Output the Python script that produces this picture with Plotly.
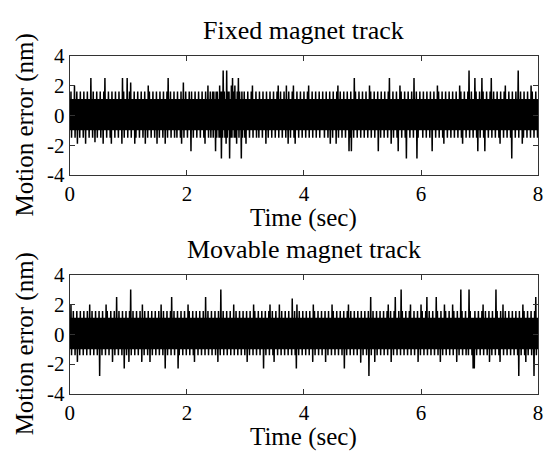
import numpy as np
import plotly.graph_objects as go

titles = ["Fixed magnet track", "Movable magnet track"]
x_ticks = [0, 2, 4, 6, 8]
y_ticks = [-4, -2, 0, 2, 4]
t_end = 8.0

# motion error (nm), sampled uniformly over 0..8 s
fixed_err = [
    1.1,-1.0,1.6,-1.5,1.1,-1.0,1.1,-1.0,2.0,-1.5,1.1,-1.0,1.6,-1.9,1.1,-1.0,1.1,-1.5,1.6,-1.0,
    1.1,-1.0,1.1,-1.5,1.6,-1.0,1.1,-1.9,1.1,-1.0,1.6,-1.0,1.1,-1.5,1.1,-1.0,2.5,-1.0,1.1,-1.5,
    1.6,-1.0,1.1,-1.8,1.1,-1.0,1.6,-1.5,1.1,-1.0,1.1,-1.0,1.6,-1.5,1.1,-1.0,1.1,-1.9,1.6,-1.0,
    2.5,-1.0,1.1,-1.5,1.1,-1.0,1.6,-1.0,1.1,-1.5,1.1,-1.9,1.6,-1.0,1.1,-1.0,1.1,-1.5,1.6,-1.0,
    1.1,-1.0,1.1,-1.5,1.6,-1.0,1.1,-1.0,1.1,-1.9,2.5,-1.0,1.6,-1.5,1.1,-1.0,1.1,-1.0,2.5,-1.5,
    1.1,-1.0,1.6,-1.0,2.2,-1.5,1.1,-1.0,1.1,-1.0,1.6,-1.9,1.1,-1.5,1.1,-1.0,1.6,-1.0,1.1,-1.5,
    1.1,-1.0,1.6,-1.0,1.1,-1.5,1.1,-1.0,1.6,-1.9,1.1,-1.0,1.1,-1.5,2.0,-1.0,1.6,-1.0,1.1,-1.5,
    1.1,-1.0,1.6,-1.0,1.1,-1.5,1.1,-1.0,1.6,-1.9,1.1,-1.0,1.1,-1.5,1.6,-1.0,1.1,-1.0,1.1,-1.5,
    1.6,-1.0,1.1,-1.9,1.1,-1.0,1.6,-1.5,2.5,-1.0,1.1,-1.0,1.6,-1.5,1.1,-1.0,1.1,-1.0,1.6,-1.5,
    1.1,-1.0,1.1,-1.5,1.6,-1.0,1.1,-1.0,1.1,-1.5,1.6,-1.9,1.1,-1.0,2.2,-1.5,1.1,-1.0,1.6,-1.0,
    1.1,-1.5,1.1,-1.0,1.6,-1.0,1.1,-2.4,1.6,-1.0,1.1,-1.5,1.1,-1.0,1.6,-1.0,1.1,-1.5,1.1,-1.0,
    1.6,-1.0,1.1,-1.5,1.1,-1.0,1.6,-1.0,1.1,-1.5,1.1,-1.9,1.6,-1.0,1.1,-1.0,2.0,-1.5,1.1,-1.0,
    1.6,-1.5,1.1,-1.0,1.6,-1.5,1.6,-1.0,1.1,-2.4,1.6,-1.5,1.6,-1.0,1.1,-1.5,2.0,-1.5,1.6,-2.9,
    1.6,-1.5,3.0,-1.0,1.6,-1.5,1.1,-1.9,3.0,-1.5,1.6,-1.0,1.6,-2.9,1.1,-1.5,2.0,-1.5,2.5,-1.0,
    1.6,-1.5,2.0,-1.5,1.1,-1.9,1.6,-1.0,2.5,-1.5,1.6,-1.0,1.1,-2.9,1.6,-1.5,1.1,-1.0,1.6,-1.5,
    1.1,-1.9,1.1,-1.0,1.6,-1.0,1.1,-1.5,1.1,-1.0,1.6,-1.0,2.0,-1.5,1.1,-1.0,1.1,-1.0,1.6,-1.5,
    1.1,-1.0,1.1,-1.5,1.6,-1.0,1.1,-1.0,1.1,-1.5,1.6,-1.0,1.1,-1.0,1.1,-1.9,1.6,-1.0,1.1,-1.5,
    1.1,-1.0,1.6,-1.0,1.1,-1.5,1.1,-1.0,1.6,-1.0,1.1,-1.5,1.1,-1.0,1.6,-1.0,2.0,-1.5,1.1,-1.0,
    1.6,-1.0,1.1,-1.5,1.1,-1.0,1.6,-1.0,1.1,-1.5,2.0,-1.0,1.1,-1.9,1.6,-1.0,1.1,-1.5,1.1,-1.0,
    1.6,-1.0,2.0,-1.5,1.1,-1.9,1.1,-1.0,1.6,-1.0,1.1,-1.5,1.1,-1.0,1.6,-1.0,1.1,-1.5,1.1,-1.0,
    1.6,-1.0,1.1,-1.5,1.1,-1.0,1.6,-1.0,2.0,-1.5,1.1,-1.0,1.1,-1.0,1.6,-1.5,1.1,-1.0,1.1,-1.0,
    1.6,-1.5,1.1,-1.0,1.1,-1.0,1.6,-1.5,1.1,-1.0,1.1,-1.0,1.6,-1.0,1.1,-1.5,1.1,-1.0,1.6,-1.0,
    1.1,-1.5,1.1,-1.0,1.6,-1.9,1.1,-1.0,1.1,-1.5,1.6,-1.0,1.1,-1.0,1.1,-1.9,1.6,-1.0,2.0,-1.5,
    1.1,-1.0,1.6,-1.0,1.1,-1.5,1.1,-1.0,1.6,-1.0,1.1,-1.5,1.1,-1.0,1.6,-1.0,1.1,-2.4,1.1,-1.5,
    1.6,-2.4,1.1,-1.0,1.1,-1.5,2.5,-1.0,1.6,-1.0,1.1,-1.5,1.1,-1.0,1.6,-1.0,1.1,-1.5,1.1,-1.0,
    1.6,-1.0,1.1,-1.5,1.1,-1.0,1.6,-1.0,1.1,-1.5,1.1,-1.0,2.0,-1.0,1.6,-1.5,1.1,-1.0,1.1,-1.0,
    1.6,-1.5,1.1,-1.0,1.1,-1.0,1.6,-2.4,1.1,-1.0,1.1,-1.5,1.6,-1.0,1.1,-1.0,1.1,-1.5,1.6,-1.0,
    1.1,-1.0,1.1,-1.5,1.6,-1.0,2.5,-1.0,1.1,-1.9,1.1,-1.0,1.6,-1.5,1.1,-1.0,1.1,-1.0,1.6,-1.5,
    1.1,-2.4,1.1,-1.0,2.0,-1.0,1.6,-1.5,1.1,-1.0,1.1,-1.0,1.6,-1.5,1.1,-2.9,1.1,-1.0,1.6,-1.0,
    1.1,-1.5,1.1,-1.0,1.6,-1.0,1.1,-1.5,2.5,-1.0,1.1,-1.0,1.6,-2.9,1.1,-1.5,1.1,-1.0,1.6,-1.0,
    1.1,-1.0,1.1,-1.5,1.6,-1.0,1.1,-1.0,1.1,-1.5,1.6,-1.0,1.1,-1.0,1.1,-1.5,1.6,-1.0,1.1,-2.4,
    1.1,-1.0,1.6,-1.0,1.1,-1.5,1.1,-1.0,2.0,-1.0,1.6,-1.5,1.1,-1.0,1.1,-1.0,1.6,-1.5,1.1,-1.9,
    1.1,-1.0,1.6,-1.0,1.1,-1.5,1.1,-1.0,1.6,-1.0,1.1,-1.5,1.1,-1.0,1.6,-1.0,1.1,-1.5,1.1,-1.0,
    1.6,-1.0,1.1,-1.5,1.1,-1.0,2.0,-1.0,1.6,-1.5,1.1,-1.9,1.1,-1.0,1.6,-1.0,1.1,-1.5,1.1,-1.0,
    1.6,-1.0,3.0,-1.5,1.1,-1.0,1.6,-1.0,1.1,-1.5,1.1,-1.0,2.5,-1.0,1.6,-1.5,1.1,-2.4,1.1,-1.0,
    1.6,-1.5,1.1,-1.0,2.5,-1.0,1.6,-1.5,1.1,-2.4,1.1,-1.0,1.6,-1.0,1.1,-1.5,1.1,-1.0,1.6,-1.0,
    2.5,-1.5,1.1,-1.0,1.6,-1.0,1.1,-1.5,1.1,-1.0,1.6,-1.0,1.1,-1.5,1.1,-1.9,1.6,-1.0,1.1,-1.0,
    1.1,-1.5,1.6,-1.0,2.0,-1.0,1.1,-1.5,1.1,-1.0,1.6,-1.0,1.1,-1.5,1.1,-2.9,1.6,-1.0,1.1,-1.0,
    1.1,-1.5,1.6,-1.0,1.1,-1.0,3.0,-1.5,1.1,-1.0,1.6,-1.0,1.1,-1.9,1.1,-1.5,1.6,-1.0,1.1,-1.0,
    1.1,-1.5,1.6,-1.0,1.1,-1.0,1.1,-1.5,2.0,-1.0,1.6,-1.0,1.1,-1.5,1.1,-1.0,1.6,-1.0,1.1,-1.5,
    1.1,
]

movable_err = [
    1.1,-1.0,2.0,-1.4,1.1,-1.0,1.55,-1.0,1.1,-1.4,1.1,-1.0,1.55,-1.85,1.1,-1.0,1.1,-1.4,1.55,-1.0,
    1.1,-1.0,1.1,-1.4,1.55,-1.0,1.1,-1.0,1.1,-1.4,1.55,-1.0,1.1,-1.0,2.0,-1.4,1.1,-1.0,1.55,-1.0,
    1.1,-1.4,1.1,-1.0,1.55,-1.0,1.1,-1.4,1.1,-1.0,1.55,-2.8,1.1,-1.0,1.1,-1.4,1.55,-1.0,1.1,-1.0,
    1.1,-1.4,2.0,-1.0,1.55,-1.0,1.1,-1.4,1.1,-1.0,1.55,-1.0,1.1,-1.85,1.1,-1.0,1.55,-1.4,1.1,-1.0,
    2.5,-1.0,1.1,-1.4,1.55,-1.0,1.1,-1.0,1.1,-1.4,1.55,-1.0,1.1,-2.3,1.1,-1.0,1.55,-1.4,1.1,-1.0,
    1.1,-1.85,1.55,-1.0,3.0,-1.4,1.1,-1.0,1.55,-1.0,1.1,-1.4,1.1,-1.0,1.55,-1.0,1.1,-1.4,1.1,-1.0,
    1.55,-1.0,1.1,-1.85,2.0,-1.0,1.1,-1.4,1.55,-1.0,1.1,-1.0,1.1,-1.4,1.55,-1.0,1.1,-1.85,1.1,-1.0,
    1.55,-1.4,1.1,-1.0,1.1,-1.0,1.55,-1.4,1.1,-1.0,1.1,-1.0,1.55,-1.4,1.1,-1.0,2.0,-1.0,1.1,-1.4,
    1.55,-1.0,1.1,-2.3,1.1,-1.0,1.55,-1.4,1.1,-1.0,1.1,-1.0,1.55,-1.4,2.5,-1.0,1.1,-1.0,1.55,-1.4,
    1.1,-1.0,1.1,-1.0,1.55,-2.3,1.1,-1.4,1.1,-1.0,1.55,-1.0,1.1,-1.4,1.1,-1.0,1.55,-1.0,1.1,-1.4,
    1.1,-1.0,2.0,-1.0,1.55,-1.4,1.1,-1.0,1.1,-1.0,1.55,-1.4,1.1,-1.85,1.1,-1.0,1.55,-1.0,1.1,-1.4,
    1.1,-1.0,1.55,-1.0,1.1,-1.4,1.1,-1.0,1.55,-1.0,1.1,-1.4,2.5,-1.0,1.1,-1.0,1.55,-1.4,1.1,-1.0,
    1.1,-1.0,1.55,-1.4,1.1,-1.0,1.1,-1.0,1.55,-1.4,1.1,-1.0,1.1,-1.85,1.55,-1.0,1.1,-1.4,3.0,-1.0,
    1.1,-1.0,1.55,-1.4,1.1,-1.0,1.1,-1.0,1.55,-1.4,1.1,-1.0,1.1,-1.0,1.55,-1.4,1.1,-1.0,1.1,-1.0,
    2.0,-1.4,1.1,-1.0,1.55,-1.0,1.1,-1.4,1.1,-1.0,1.55,-1.0,1.1,-1.4,1.1,-1.0,1.55,-1.0,1.1,-1.4,
    1.1,-1.0,1.55,-1.85,1.1,-1.0,1.1,-1.4,1.55,-1.0,1.1,-1.0,1.1,-1.4,2.0,-1.0,1.55,-1.0,1.1,-1.4,
    1.1,-1.0,1.55,-1.0,1.1,-1.4,1.1,-1.0,1.55,-1.0,1.1,-2.3,1.1,-1.0,1.55,-1.4,1.1,-1.0,1.1,-1.0,
    1.55,-1.4,2.0,-1.0,1.1,-1.0,1.55,-1.4,1.1,-1.85,1.1,-1.0,1.55,-1.0,1.1,-1.4,1.1,-1.0,2.0,-1.0,
    1.1,-1.4,1.55,-1.0,1.1,-1.0,1.1,-1.4,1.55,-1.0,1.1,-1.0,1.1,-1.4,1.55,-1.0,1.1,-1.0,1.1,-1.4,
    2.4,-1.0,1.1,-1.0,1.55,-1.4,1.1,-2.3,2.0,-1.0,1.1,-1.4,1.55,-1.0,1.1,-1.0,1.1,-1.4,1.55,-1.0,
    1.1,-1.0,1.1,-1.4,1.55,-1.0,1.1,-1.0,1.1,-1.4,1.55,-1.0,1.1,-1.0,1.1,-1.85,2.0,-1.0,1.55,-1.4,
    1.1,-1.0,1.1,-1.0,1.55,-1.4,1.1,-1.0,1.1,-1.0,1.55,-1.4,1.1,-1.0,1.1,-1.0,1.55,-1.85,1.1,-1.0,
    1.1,-1.4,1.55,-1.0,1.1,-1.0,1.1,-1.4,2.0,-1.0,1.55,-1.0,1.1,-1.4,1.1,-1.0,1.55,-1.0,1.1,-1.4,
    1.1,-1.0,1.55,-1.0,1.1,-1.4,1.1,-1.0,1.55,-2.3,1.1,-1.0,1.1,-1.4,1.55,-1.0,2.0,-1.0,1.1,-1.4,
    1.55,-1.0,1.1,-1.0,1.1,-1.4,1.55,-1.0,1.1,-1.0,1.1,-1.4,1.55,-1.0,1.1,-1.0,1.1,-1.9,1.55,-1.0,
    1.1,-1.4,1.1,-1.0,1.55,-1.0,1.1,-1.4,1.1,-1.0,1.55,-2.8,1.1,-1.0,2.5,-1.4,1.1,-1.0,1.55,-1.0,
    1.1,-1.85,1.1,-1.0,1.55,-1.4,1.1,-1.0,1.1,-1.0,1.55,-1.4,1.1,-1.0,1.1,-1.0,1.55,-1.4,1.1,-1.0,
    1.1,-1.0,1.55,-1.4,2.0,-1.0,1.1,-1.0,1.55,-1.85,1.1,-1.0,1.1,-1.4,1.55,-1.0,2.5,-1.0,1.1,-1.4,
    1.1,-1.0,1.55,-1.0,1.1,-1.4,3.0,-1.0,1.55,-1.0,1.1,-1.4,1.1,-1.0,1.55,-1.0,1.1,-1.4,1.1,-1.0,
    1.55,-1.0,2.0,-1.4,1.1,-1.0,1.1,-1.0,1.55,-1.4,1.1,-1.0,1.1,-1.0,1.55,-1.85,1.1,-1.0,1.1,-1.4,
    2.0,-1.0,1.55,-1.0,1.1,-1.4,1.1,-1.0,1.55,-1.0,2.5,-1.4,1.1,-1.0,1.55,-1.0,1.1,-1.4,1.1,-1.0,
    1.55,-1.0,1.1,-1.4,1.1,-1.0,2.5,-1.0,1.55,-1.4,1.1,-1.0,1.1,-1.85,1.55,-1.0,1.1,-1.4,1.1,-1.0,
    2.0,-1.0,1.55,-1.4,1.1,-1.0,1.1,-1.0,1.55,-1.4,1.1,-1.0,1.1,-1.0,2.0,-1.4,1.55,-1.0,1.1,-1.0,
    1.1,-1.85,1.55,-1.0,1.1,-1.4,1.1,-1.0,3.0,-1.0,1.55,-1.4,1.1,-1.0,1.1,-1.0,1.55,-1.4,1.1,-1.0,
    1.1,-1.4,3.0,-1.0,1.55,-1.0,1.1,-1.4,1.1,-2.3,1.1,-2.3,1.55,-1.0,1.1,-1.4,1.1,-1.0,1.55,-1.0,
    1.1,-1.4,1.1,-1.0,1.55,-1.0,2.0,-1.4,1.1,-1.0,1.55,-1.0,1.1,-1.4,1.1,-1.0,1.55,-1.85,1.1,-1.0,
    1.1,-1.4,1.55,-1.0,1.1,-1.0,1.1,-1.4,3.0,-1.0,1.55,-1.0,1.1,-1.4,1.1,-1.85,1.55,-1.0,1.1,-1.0,
    2.0,-1.4,1.1,-1.0,1.55,-1.0,1.1,-1.4,1.1,-1.0,1.55,-1.0,1.1,-1.4,1.1,-1.0,1.55,-1.0,1.1,-1.4,
    1.1,-1.0,1.55,-1.0,1.1,-1.4,1.1,-2.8,1.55,-1.0,1.1,-1.4,1.1,-1.0,2.0,-1.0,1.55,-1.4,1.1,-1.85,
    1.1,-1.0,1.55,-1.4,1.1,-1.0,1.1,-1.0,1.55,-1.4,1.1,-1.0,1.1,-2.8,1.55,-1.0,2.5,-1.4,1.1,-1.0,
    1.1,
]

W, H = 549, 460
FONT = "Liberation Serif"

def px_x(p):
    return p / W

def px_y(p):
    return 1 - p / H

ax_left, ax_right = 66, 543
panels = [(46, 172), (277, 403)]

fig = go.Figure()
series = [fixed_err, movable_err]
for k, ys in enumerate(series):
    t = np.linspace(0, t_end, len(ys))
    fig.add_trace(go.Scatter(
        x=t, y=ys, mode="lines",
        line=dict(color="black", width=1.5),
        xaxis="x" if k == 0 else "x2",
        yaxis="y" if k == 0 else "y2",
        showlegend=False, hoverinfo="skip",
    ))

axis_common = dict(
    showgrid=False, zeroline=False, showline=True, linecolor="#333333", linewidth=1,
    mirror="ticks", ticks="inside", ticklen=5, tickcolor="#333333",
    tickfont=dict(family=FONT, size=21, color="black"),
)

layout = dict(
    width=W, height=H, margin=dict(l=0, r=0, t=0, b=0),
    paper_bgcolor="white", plot_bgcolor="white",
    font=dict(family=FONT, color="black"),
    annotations=[],
)
for k, (top, bot) in enumerate(panels):
    sx = "" if k == 0 else "2"
    layout["xaxis" + sx] = dict(
        axis_common, domain=[px_x(ax_left), px_x(ax_right)], range=[0, t_end],
        tickvals=x_ticks, ticktext=[str(v) for v in x_ticks],
        anchor="y" + sx,
    )
    layout["yaxis" + sx] = dict(
        axis_common, domain=[px_y(bot), px_y(top)], range=[-4, 4],
        tickvals=y_ticks, ticktext=[str(v) for v in y_ticks],
        anchor="x" + sx,
    )
    mid = (ax_left + ax_right) / 2
    layout["annotations"] += [
        dict(text=titles[k], x=px_x(mid), y=px_y(top - 26), xref="paper", yref="paper",
             showarrow=False, font=dict(family=FONT, size=26, color="black"),
             xanchor="center", yanchor="middle"),
        dict(text="Time (sec)", x=px_x(mid), y=px_y(bot + 45), xref="paper", yref="paper",
             showarrow=False, font=dict(family=FONT, size=25, color="black"),
             xanchor="center", yanchor="middle", borderpad=0),
        dict(text="Motion error (nm)", x=px_x(20), y=px_y((top + bot) / 2 + 10), xref="paper",
             yref="paper", showarrow=False, textangle=-90,
             font=dict(family=FONT, size=25, color="black"),
             xanchor="center", yanchor="middle"),
    ]

fig.update_layout(**layout)
fig.write_html("out.html")
